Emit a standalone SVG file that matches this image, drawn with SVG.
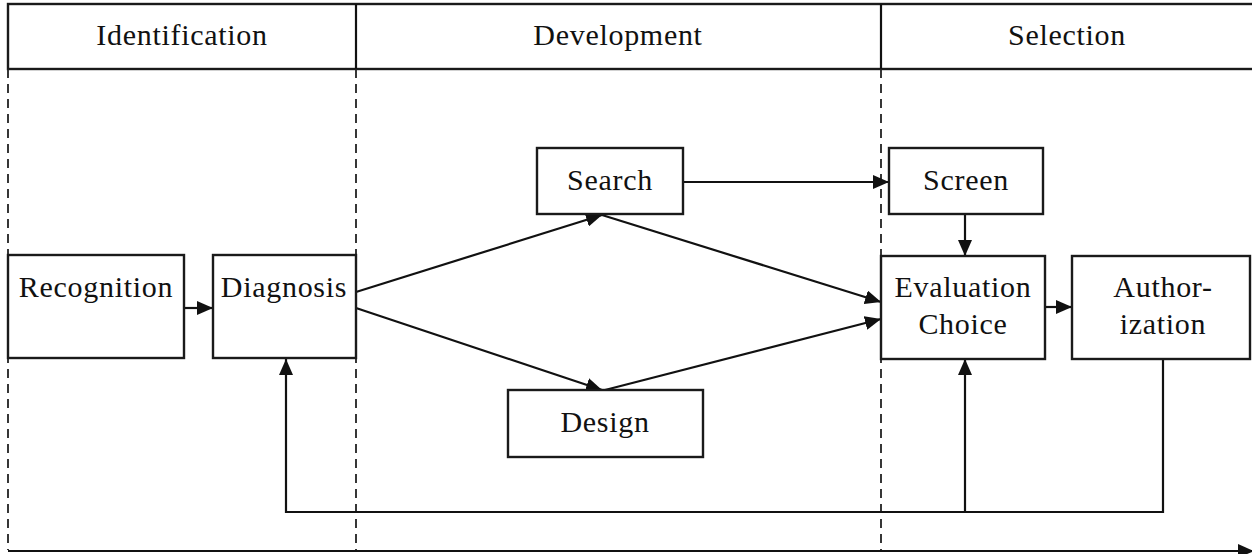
<svg xmlns="http://www.w3.org/2000/svg" width="1252" height="554" viewBox="0 0 1252 554">
<style>
text{font-family:"Liberation Serif","Times New Roman",serif;font-size:30px;fill:#111;text-anchor:middle;letter-spacing:0.7px}
.box{fill:#fff;stroke:#1a1a1a;stroke-width:2.4}
.ln{fill:none;stroke:#111;stroke-width:2.2}
.dash{fill:none;stroke:#222;stroke-width:1.8;stroke-dasharray:9 6}
</style>
<defs>
<marker id="ah" viewBox="0 0 16 14" refX="16" refY="7" markerWidth="16" markerHeight="14" markerUnits="userSpaceOnUse" orient="auto">
<path d="M0,0 L16,7 L0,14 Z" fill="#111"/>
</marker>
</defs>
<rect width="1252" height="554" fill="#fff"/>
<g id="header">
<rect x="8" y="4" width="1250" height="65" class="box"/>
<line x1="356" y1="4" x2="356" y2="69" class="ln"/>
<line x1="881" y1="4" x2="881" y2="69" class="ln"/>
<text x="182" y="45">Identification</text>
<text x="618" y="45">Development</text>
<text x="1067" y="45">Selection</text>
</g>
<g id="lanes">
<line x1="8" y1="69" x2="8" y2="550" class="dash"/>
<line x1="356" y1="69" x2="356" y2="550" class="dash"/>
<line x1="881" y1="69" x2="881" y2="550" class="dash"/>
</g>
<g id="connectors">
<line x1="8" y1="551" x2="1254" y2="551" class="ln" marker-end="url(#ah)"/>
<line x1="184" y1="308" x2="213" y2="308" class="ln" marker-end="url(#ah)"/>
<line x1="356" y1="292" x2="602" y2="215" class="ln" marker-end="url(#ah)"/>
<line x1="356" y1="308" x2="602" y2="390" class="ln" marker-end="url(#ah)"/>
<line x1="602" y1="215" x2="881" y2="302" class="ln" marker-end="url(#ah)"/>
<line x1="605" y1="390" x2="881" y2="319" class="ln" marker-end="url(#ah)"/>
<line x1="683" y1="182" x2="889" y2="182" class="ln" marker-end="url(#ah)"/>
<line x1="965" y1="214" x2="965" y2="256" class="ln" marker-end="url(#ah)"/>
<line x1="1045" y1="307" x2="1072" y2="307" class="ln" marker-end="url(#ah)"/>
<polyline points="1163,359 1163,512 286,512 286,359" class="ln" marker-end="url(#ah)"/>
<line x1="965" y1="512" x2="965" y2="359" class="ln" marker-end="url(#ah)"/>
</g>
<g id="recognition">
<rect x="8" y="255" width="176" height="103" class="box"/>
<text x="96" y="297">Recognition</text>
</g>
<g id="diagnosis">
<rect x="213" y="255" width="143" height="103" class="box"/>
<text x="284" y="297">Diagnosis</text>
</g>
<g id="search">
<rect x="537" y="148" width="146" height="66" class="box"/>
<text x="610" y="190">Search</text>
</g>
<g id="design">
<rect x="508" y="390" width="195" height="67" class="box"/>
<text x="605" y="432">Design</text>
</g>
<g id="screen">
<rect x="889" y="148" width="154" height="66" class="box"/>
<text x="966" y="190">Screen</text>
</g>
<g id="evaluation">
<rect x="881" y="256" width="164" height="103" class="box"/>
<text x="963" y="297">Evaluation</text>
<text x="963" y="334">Choice</text>
</g>
<g id="authorization">
<rect x="1072" y="256" width="178" height="103" class="box"/>
<text x="1163" y="297">Author-</text>
<text x="1163" y="334">ization</text>
</g>
</svg>
